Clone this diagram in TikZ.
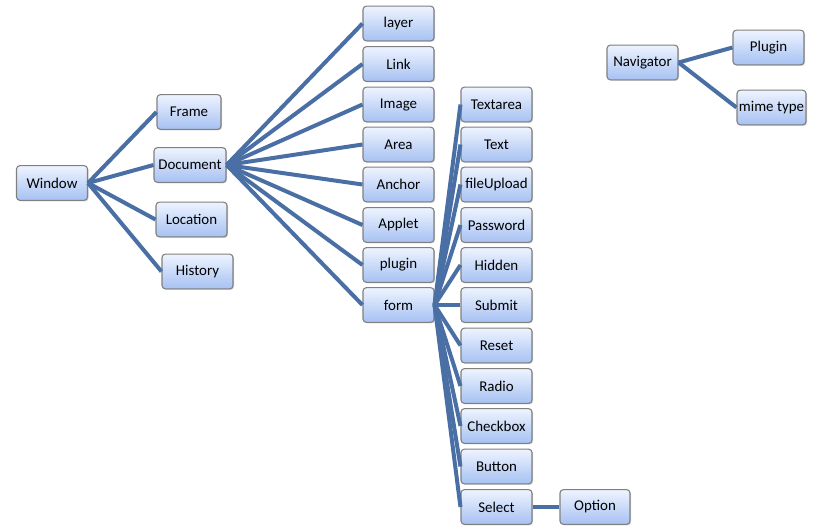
\documentclass[tikz,border=0pt]{standalone}
\usepackage{fontspec}
\setmainfont{Carlito}
\usetikzlibrary{shadows}
\definecolor{linkblue}{HTML}{4A6FA5}
\definecolor{boxtop}{HTML}{EEF4FF}
\definecolor{boxbot}{HTML}{A6C1F2}
\definecolor{boxedge}{HTML}{808080}
\tikzset{
  box/.style={draw=boxedge, line width=0.8pt, rounded corners=2.5pt,
    top color=boxtop, bottom color=boxbot,
    minimum width=#1*0.75pt, minimum height=26pt, inner sep=1pt,
    font=\fontsize{11.2}{13}\selectfont,
    drop shadow={opacity=0.35, shadow xshift=0.8pt, shadow yshift=-0.8pt, fill=gray}},
  box/.default=71,
  link/.style={draw=linkblue, line width=3pt}
}
\begin{document}
\begin{tikzpicture}[x=0.75pt, y=-0.75pt]
\useasboundingbox (0,0) rectangle (816,531);
% left tree
\node[box] (window) at (52,183) {Window};
\node[box=64] (frame) at (189,112) {Frame};
\node[box=72] (document) at (190,165) {Document};
\node[box] (location) at (191.5,219.5) {Location};
\node[box] (history) at (197.5,271.5) {History};
% document children
\node[box] (layer) at (398.5,23.5) {layer};
\node[box] (link) at (398.5,64) {Link};
\node[box] (image) at (398.5,104.5) {Image};
\node[box] (area) at (398.5,144.5) {Area};
\node[box] (anchor) at (398.5,184.5) {Anchor};
\node[box] (applet) at (398.5,225) {Applet};
\node[box] (plugin) at (398.5,265) {plugin};
\node[box] (form) at (398.5,305) {form};
% form children
\node[box] (textarea) at (496.5,104.5) {Textarea};
\node[box] (text) at (496.5,144.5) {Text};
\node[box] (fileupload) at (496.5,184.5) {fileUpload};
\node[box] (password) at (496.5,225) {Password};
\node[box] (hidden) at (496.5,265) {Hidden};
\node[box] (submit) at (496.5,305) {Submit};
\node[box] (reset) at (496.5,345.5) {Reset};
\node[box] (radio) at (496.5,386) {Radio};
\node[box] (checkbox) at (496.5,426) {Checkbox};
\node[box] (button) at (496.5,466.5) {Button};
\node[box] (select) at (496.5,507) {Select};
\node[box=70] (option) at (595,507) {Option};
% navigator
\node[box] (navigator) at (642.5,62.5) {Navigator};
\node[box] (plugin2) at (768.5,47.5) {Plugin};
\node[box=69] (mime) at (771.5,107.5) {mime type};
% connectors
\foreach \c in {frame,document,location,history}
  \draw[link] (window.east) -- (\c.west);
\foreach \c in {layer,link,image,area,anchor,applet,plugin,form}
  \draw[link] (document.east) -- (\c.west);
\foreach \c in {textarea,text,fileupload,password,hidden,submit,reset,radio,checkbox,button,select}
  \draw[link] (form.east) -- (\c.west);
\draw[link] (select.east) -- (option.west);
\draw[link] (navigator.east) -- (plugin2.west);
\draw[link] (navigator.east) -- (mime.west);
\end{tikzpicture}
\end{document}
